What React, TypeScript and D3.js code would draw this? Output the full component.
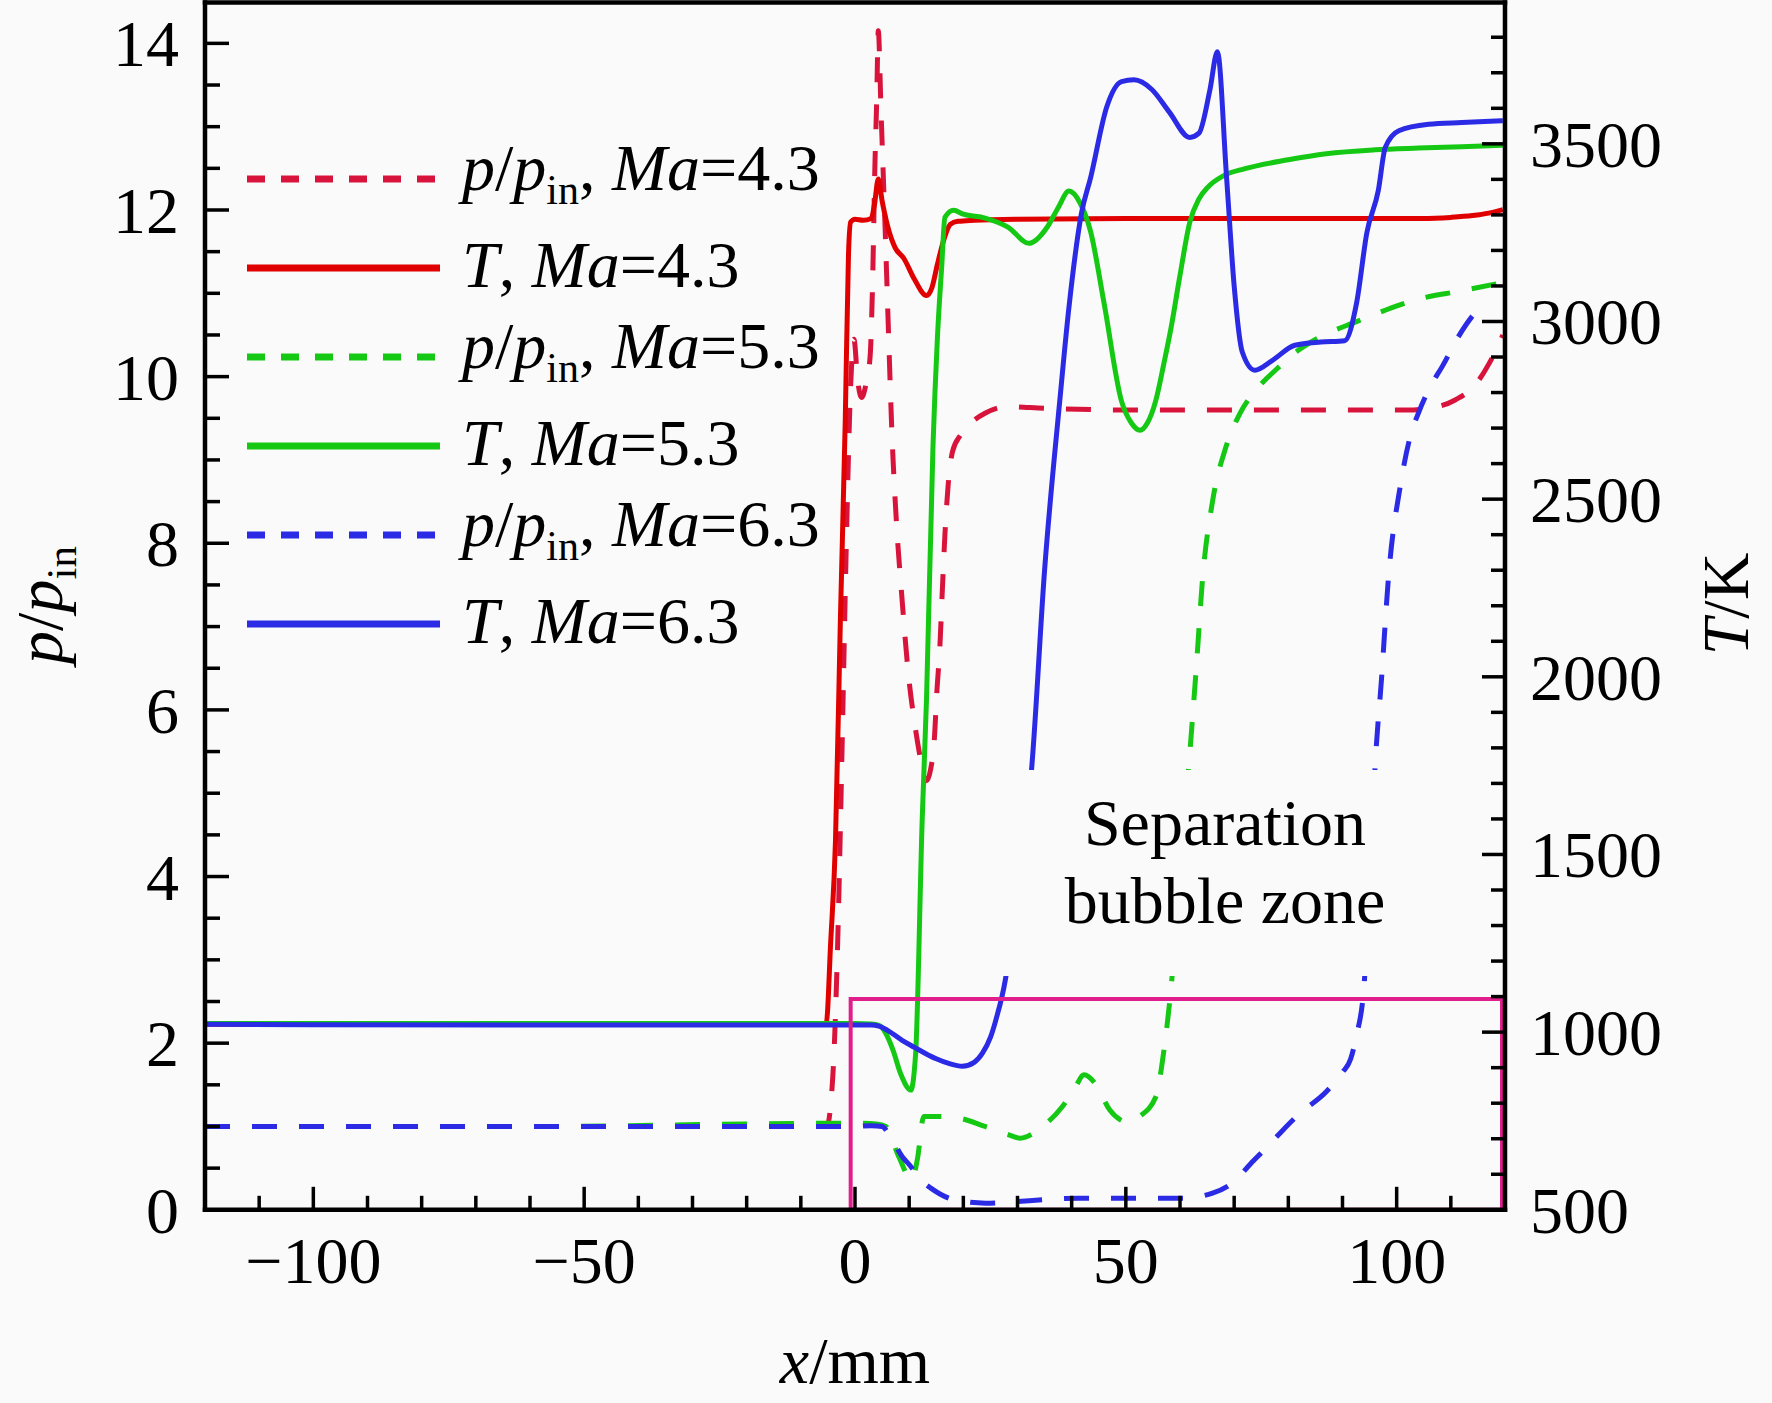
import React from 'react';
import * as d3 from 'd3';

// ---------- data (x in mm) ----------
// p/p_in, Ma = 4.3
const xP43 = [-120, -60, -10, -5.2, -4.5, -3.9, -3.2, -2.4, -1.6, -0.8, -0.2, 0.5, 1.2, 2.0, 2.8, 3.2, 3.7, 4.0, 4.3, 4.8, 5.6, 6.2, 6.8, 7.7, 8.6, 9.9, 11.1, 12.3, 13.2, 14.0, 14.6, 15.1, 15.7, 16.1, 16.6, 17.2, 18.0, 19.5, 21.5, 24, 28, 35, 50, 70, 90, 102, 106, 110.8, 114.5, 117, 119.6];
const pP43 = [1.0, 1.0, 1.0, 1.0, 1.25, 1.85, 3.2, 5.5, 8.0, 9.9, 10.45, 9.95, 9.75, 9.9, 10.25, 11.0, 12.6, 13.3, 14.15, 13.2, 11.7, 10.5, 9.35, 8.2, 7.4, 6.4, 5.8, 5.35, 5.15, 5.3, 5.6, 6.2, 6.8, 7.4, 8.1, 8.7, 9.1, 9.3, 9.45, 9.56, 9.64, 9.62, 9.6, 9.6, 9.6, 9.6, 9.62, 9.72, 9.9, 10.15, 10.5];

// T, Ma = 4.3
const xT43 = [-120, -60, -6, -5.3, -4.5, -3.6, -2.7, -1.8, -1.2, -0.8, 0, 1.5, 3.0, 3.6, 4.3, 5.0, 6.0, 7.4, 9.0, 11.0, 13.2, 14.2, 15.2, 16.4, 17.6, 19, 22, 30, 50, 80, 100, 104.7, 110, 114, 117, 119.6];
const tT43 = [1022, 1022, 1022, 1025, 1250, 1540, 2160, 2720, 3190, 3280, 3288, 3285, 3290, 3330, 3401, 3340, 3270, 3208, 3178, 3118, 3073, 3095, 3160, 3230, 3274, 3282, 3285, 3288, 3290, 3290, 3290, 3290, 3293, 3298, 3305, 3315];

// p/p_in, Ma = 5.3
const xP53 = [-120, -60, -20, 0, 4, 5.7, 8, 10.5, 11.5, 12.7, 15, 19.2, 24, 28.4, 30.5, 34.6, 38.3, 40.5, 42.3, 44.5, 47, 49, 50.4, 52.5, 55.5, 57, 58.3, 60, 61.8, 63, 64.2, 66, 68.5, 71, 74.3, 78, 81.1, 86, 92.6, 98, 104, 112, 119.6];
const pP53 = [1.0, 1.0, 1.03, 1.04, 1.03, 1.0, 0.65, 0.36, 0.6, 1.12, 1.12, 1.1, 1.0, 0.9, 0.86, 1.0, 1.24, 1.45, 1.62, 1.5, 1.2, 1.08, 1.05, 1.12, 1.35, 1.9, 2.63, 4.0, 5.47, 6.5, 7.6, 8.5, 9.16, 9.55, 9.86, 10.1, 10.28, 10.48, 10.66, 10.8, 10.93, 11.03, 11.13];

// T, Ma = 5.3
const xT53 = [-120, -60, 0, 3, 4.6, 5.7, 7, 8.5, 10.3, 11.2, 12.4, 13.2, 14.4, 15.2, 16.0, 16.6, 18.2, 20, 24, 28.3, 32.1, 35.5, 37.5, 39.5, 41.5, 43.5, 46, 49.2, 51, 52.6, 54, 55.5, 57, 58.3, 60, 61.8, 63.5, 65.2, 68, 72, 80, 87, 96, 104, 112, 119.6];
const tT53 = [1024, 1024, 1024, 1023, 1018, 996, 950, 880, 837, 941, 1596, 1936, 2650, 2950, 3153, 3293, 3313, 3302, 3291, 3265, 3220, 3266, 3320, 3367, 3335, 3253, 3050, 2776, 2715, 2694, 2715, 2776, 2880, 2978, 3130, 3279, 3345, 3379, 3410, 3430, 3455, 3472, 3483, 3488, 3492, 3496];

// p/p_in, Ma = 6.3
const xP63 = [-120, -60, 0, 3, 5.0, 6.5, 8.7, 10.3, 11.8, 14, 17.3, 20, 24.1, 30, 34.6, 41.2, 50, 60.6, 66, 69.8, 73, 76, 78.9, 82, 86.9, 90, 91.5, 92.6, 93.8, 95, 96, 97.2, 98.5, 100.7, 102.5, 104, 106.2, 108.4, 111.4, 113.9, 116.5];
const pP63 = [1.0, 1.0, 1.0, 1.01, 1.0, 0.88, 0.64, 0.52, 0.38, 0.26, 0.14, 0.1, 0.08, 0.1, 0.12, 0.14, 0.14, 0.14, 0.2, 0.33, 0.55, 0.75, 0.95, 1.15, 1.41, 1.65, 1.81, 2.1, 2.56, 3.8, 5.3, 6.37, 7.6, 8.7, 9.28, 9.56, 9.88, 10.12, 10.48, 10.72, 10.9];

// T, Ma = 6.3
const xT63 = [-120, -60, 0, 3, 4.4, 6, 8.7, 11, 13, 15, 17.3, 19.8, 22, 23.5, 25, 26, 27.8, 30, 32.6, 35, 37.8, 39.5, 41.8, 43.5, 46.5, 49.2, 51.5, 54.8, 58, 61.8, 63.5, 65.5, 66.9, 68.6, 70, 71.5, 73.8, 77, 81.2, 86, 90.4, 92.6, 94.5, 96.6, 97.9, 100.4, 105.9, 112, 119.6];
const tT63 = [1022, 1020, 1020, 1020, 1017, 1005, 977, 957, 940, 925, 912, 904, 915, 940, 985, 1034, 1151, 1420, 1740, 2300, 2776, 3040, 3304, 3405, 3605, 3675, 3680, 3653, 3590, 3518, 3530, 3650, 3759, 3405, 3100, 2914, 2863, 2890, 2933, 2942, 2946, 3052, 3250, 3368, 3490, 3537, 3555, 3560, 3565];

// axis ticks
const xTickLabels = [-100, -50, 0, 50, 100];
const pTickLabels = [0, 2, 4, 6, 8, 10, 12, 14];
const tTickLabels = [500, 1000, 1500, 2000, 2500, 3000, 3500];

// separation bubble zone box (x in mm, p/p_in)
const zoneX = [-0.8, 120];
const zoneP = [0, 2.53];

// ---------- styling ----------
const W = 1772;
const H = 1403;
const PL = 205, PR = 1505, PT = 1.7, PB = 1209.8;
const FONT = "'Liberation Serif', 'Times New Roman', serif";
const BG = '#fafafa';
const C_RED_D = '#d8143c';
const C_RED = '#e00000';
const C_GREEN = '#14c814';
const C_BLUE = '#2b2be6';
const C_PINK = '#e01e8c';

type Series = { xs: number[]; ys: number[]; axis: 'p' | 'T'; color: string; dashed: boolean; label: 'p' | 'T'; ma: string };

const series: Series[] = [
  { xs: xP43, ys: pP43, axis: 'p', color: C_RED_D, dashed: true, label: 'p', ma: '4.3' },
  { xs: xT43, ys: tT43, axis: 'T', color: C_RED, dashed: false, label: 'T', ma: '4.3' },
  { xs: xP53, ys: pP53, axis: 'p', color: C_GREEN, dashed: true, label: 'p', ma: '5.3' },
  { xs: xT53, ys: tT53, axis: 'T', color: C_GREEN, dashed: false, label: 'T', ma: '5.3' },
  { xs: xP63, ys: pP63, axis: 'p', color: C_BLUE, dashed: true, label: 'p', ma: '6.3' },
  { xs: xT63, ys: tT63, axis: 'T', color: C_BLUE, dashed: false, label: 'T', ma: '6.3' },
];

export default function App() {
  const x = d3.scaleLinear().domain([-120, 120]).range([PL, PR]);
  const yP = d3.scaleLinear().domain([0, 14.5]).range([PB, PT]);
  const yT = d3.scaleLinear().domain([500, 3900]).range([PB, PT]);

  const paths = series.map((s) => {
    const ys = s.axis === 'p' ? yP : yT;
    const line = d3
      .line<[number, number]>()
      .x((d) => x(d[0]))
      .y((d) => ys(d[1]))
      .curve(d3.curveMonotoneX);
    return line(d3.zip(s.xs, s.ys) as [number, number][]) || '';
  });

  const xMinor = d3.range(-110, 111, 10);
  const pMinor = d3.range(0, 14.01, 0.5);
  const tMinor = d3.range(500, 3850, 100);

  const legendY0 = 179;
  const legendStep = 89;

  return (
    <svg width={W} height={H} style={{ position: 'absolute', left: 0, top: 0, background: BG }} fontFamily={FONT}>
      <rect x={0} y={0} width={W} height={H} fill={BG} />
      <defs>
        <clipPath id="plotClip">
          <rect x={PL} y={PT} width={PR - PL} height={PB - PT} />
        </clipPath>
      </defs>

      {/* data curves */}
      <g clipPath="url(#plotClip)">
        {series.map((s, i) => (
          <path
            key={i}
            d={paths[i]}
            fill="none"
            stroke={s.color}
            strokeWidth={5}
            strokeDasharray={s.dashed ? '25,22' : undefined}
            strokeLinejoin="round"
          />
        ))}
      </g>

      {/* annotation background & text */}
      <rect x={985} y={770} width={415} height={206} fill={BG} />
      <text x={1225} y={845} fontSize={66} textAnchor="middle" fill="#000">Separation</text>
      <text x={1225} y={923} fontSize={66} textAnchor="middle" fill="#000">bubble zone</text>

      {/* separation zone box */}
      <rect
        x={x(zoneX[0])}
        y={yP(zoneP[1])}
        width={x(zoneX[1]) - x(zoneX[0]) - 3}
        height={yP(zoneP[0]) - yP(zoneP[1])}
        fill="none"
        stroke={C_PINK}
        strokeWidth={4}
      />

      {/* ticks */}
      <g stroke="#000" strokeWidth={3.5}>
        {xMinor.map((v) => {
          const major = v % 50 === 0;
          return <line key={'x' + v} x1={x(v)} x2={x(v)} y1={PB} y2={PB - (major ? 23 : 14)} />;
        })}
        {pMinor.map((v) => {
          const major = v % 2 === 0;
          return <line key={'p' + v} x1={PL} x2={PL + (major ? 24 : 15)} y1={yP(v)} y2={yP(v)} />;
        })}
        {tMinor.map((v) => {
          const major = v % 500 === 0;
          return <line key={'t' + v} x1={PR} x2={PR - (major ? 23 : 14)} y1={yT(v)} y2={yT(v)} />;
        })}
      </g>

      {/* frame */}
      <g stroke="#000" strokeWidth={4.5} strokeLinecap="square">
        <line x1={PL} x2={PR} y1={PB} y2={PB} />
        <line x1={PL} x2={PL} y1={2.5} y2={PB} />
        <line x1={PR} x2={PR} y1={2.5} y2={PB} />
        <line x1={PL} x2={PR} y1={2.5} y2={2.5} />
      </g>

      {/* tick labels */}
      <g fontSize={66} fill="#000">
        {xTickLabels.map((v) => (
          <text key={'xl' + v} x={x(v)} y={1283} textAnchor="middle">
            {v < 0 ? '\u2212' + Math.abs(v) : String(v)}
          </text>
        ))}
        {pTickLabels.map((v) => (
          <text key={'pl' + v} x={179} y={yP(v) + 23} textAnchor="end">
            {v}
          </text>
        ))}
        {tTickLabels.map((v) => (
          <text key={'tl' + v} x={1530} y={yT(v) + 23} textAnchor="start">
            {v}
          </text>
        ))}
      </g>

      {/* axis titles */}
      <text x={855} y={1383} fontSize={66} textAnchor="middle">
        <tspan fontStyle="italic">x</tspan>/mm
      </text>
      <text transform="translate(62,605) rotate(-90)" fontSize={66} textAnchor="middle">
        <tspan fontStyle="italic">p</tspan>/<tspan fontStyle="italic">p</tspan>
        <tspan fontSize={43} dy={14}>in</tspan>
      </text>
      <text transform="translate(1748,604) rotate(-90)" fontSize={66} textAnchor="middle">
        <tspan fontStyle="italic">T</tspan>/K
      </text>

      {/* legend */}
      {series.map((s, i) => {
        const ly = legendY0 + i * legendStep;
        const by = ly + (s.label === 'p' ? 11 : 19);
        return (
          <g key={'lg' + i}>
            <line
              x1={247}
              x2={440}
              y1={ly}
              y2={ly}
              stroke={s.color}
              strokeWidth={7}
              strokeDasharray={s.dashed ? '18,16' : undefined}
            />
            {s.label === 'p' ? (
              <text x={462} y={by} fontSize={66}>
                <tspan fontStyle="italic">p</tspan>/<tspan fontStyle="italic">p</tspan>
                <tspan fontSize={42} dy={14}>in</tspan>
                <tspan dy={-14}>, </tspan>
                <tspan fontStyle="italic">Ma</tspan>={s.ma}
              </text>
            ) : (
              <text x={462} y={by} fontSize={66}>
                <tspan fontStyle="italic">T</tspan>, <tspan fontStyle="italic">Ma</tspan>={s.ma}
              </text>
            )}
          </g>
        );
      })}
    </svg>
  );
}
